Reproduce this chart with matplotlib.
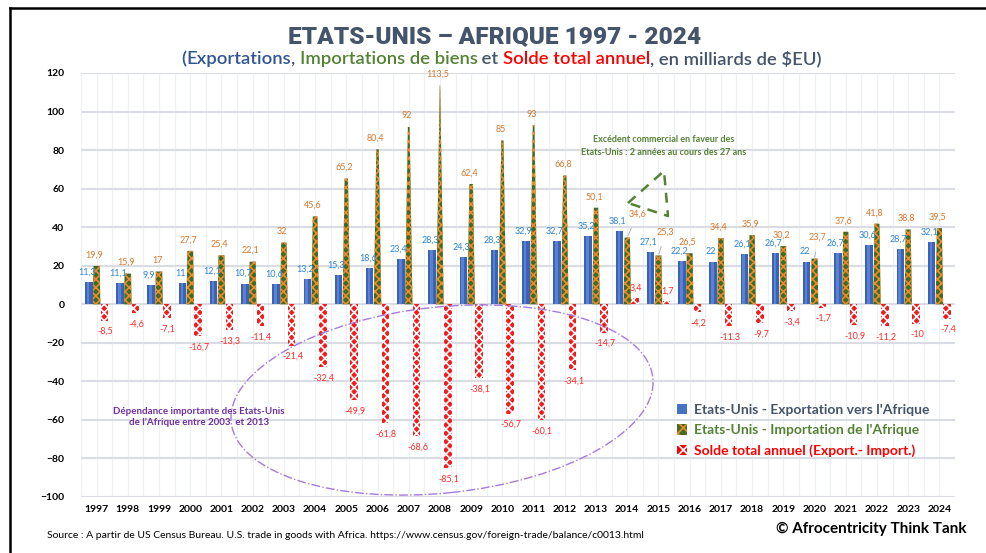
import numpy as np
import matplotlib.pyplot as plt
from matplotlib.patches import Patch, Ellipse
from matplotlib.lines import Line2D

# valeurs en milliards de $EU
years = list(range(1997, 2025))
exports = [11.3, 11.1, 9.9, 11, 12.1, 10.7, 10.6, 13.2, 15.3, 18.6, 23.4, 28.3, 24.3, 28.3,
           32.9, 32.7, 35.2, 38.1, 27.1, 22.2, 22, 26.1, 26.7, 22, 26.7, 30.6, 28.7, 32.1]
imports = [19.9, 15.9, 17, 27.7, 25.4, 22.1, 32, 45.6, 65.2, 80.4, 92, 113.5, 62.4, 85,
           93, 66.8, 50.1, 34.6, 25.3, 26.5, 34.4, 35.9, 30.2, 23.7, 37.6, 41.8, 38.8, 39.5]
balance = [-8.5, -4.6, -7.1, -16.7, -13.3, -11.4, -21.4, -32.4, -49.9, -61.8, -68.6, -85.1,
           -38.1, -56.7, -60.1, -34.1, -14.7, 3.4, 1.7, -4.2, -11.3, -9.7, -3.4, -1.7,
           -10.9, -11.2, -10, -7.4]
y_ticks = list(range(-100, 121, 20))

BLUE = '#3A63B8'
GREEN = '#3F6B22'
ORANGE = '#EE8A2C'
RED = '#F21C1C'
SLATE = '#44546A'

plt.rcParams['font.family'] = ['Lato', 'DejaVu Sans']
plt.rcParams['hatch.linewidth'] = 1.2

W, H = 987, 553
fig = plt.figure(figsize=(W / 100, H / 100), dpi=100)


def fx(p):
    return p / W


def fy(p):
    return 1 - p / H


def fmt(v):
    return f"{v:g}".replace('.', ',')


ax = fig.add_axes([fx(81), fy(497), fx(955) - fx(81), fy(73) - fy(497)])
x = np.arange(len(years))
ax.set_xlim(-0.5, len(years) - 0.5)
ax.set_ylim(-100, 120)

bw = 0.24
off = 0.25

# exportations : cylindres bleus
ax.bar(x - off, exports, bw, color=BLUE, zorder=3)
ax.bar(x - off - 0.02, exports, bw * 0.35, color='#7098E2', alpha=0.6, zorder=3)

# importations : pyramides jusqu'au max de l'axe
for xi, v in zip(x, imports):
    h0 = bw / 2
    h1 = h0 * (1 - v / 120)
    ax.fill([xi - h0, xi + h0, xi + h1, xi - h1], [0, 0, v, v],
            facecolor=GREEN, edgecolor=ORANGE, hatch='xxxx', lw=0, zorder=3)

# solde
ax.bar(x + off, balance, bw, color=RED, edgecolor='white', hatch='xxxx', lw=0, zorder=3)

# étiquettes
lab_kw = dict(textcoords='offset pixels', ha='center', va='center', fontsize=6.5, zorder=6)
for i, v in enumerate(exports):
    ax.annotate(fmt(v), (x[i] - off, v), xytext=(-2, 10), color='#2F86D4', **lab_kw)

special = {2014: (10, 23), 2015: (7, 23), 2020: (3, 21)}
for i, v in enumerate(imports):
    if years[i] in special:
        ax.annotate(fmt(v), (x[i], v), xytext=special[years[i]], color='#D9772C',
                    arrowprops=dict(arrowstyle='-', color='#A6A6A6', lw=0.6,
                                    shrinkA=5, shrinkB=1), **lab_kw)
    else:
        ax.annotate(fmt(v), (x[i], v), xytext=(-2, 11), color='#D9772C', **lab_kw)

for i, v in enumerate(balance):
    dy = 10 if v > 0 else -11
    ax.annotate(fmt(v), (x[i] + off, v), xytext=(1, dy), color='#FF2A2A', **lab_kw)

# axes
ax.set_yticks(y_ticks)
ax.set_xticks(x, [str(y) for y in years])
ax.set_xticks(np.arange(-0.5, len(years), 0.5), minor=True)
ax.tick_params(axis='both', length=0, which='both')
ax.tick_params(axis='y', pad=12, labelsize=7.5)
ax.tick_params(axis='x', pad=6, labelsize=7.5)
for t in ax.get_xticklabels() + ax.get_yticklabels():
    t.set_fontweight('bold')
ax.grid(axis='y', color='#D9DCE2', lw=1.5, zorder=0)
ax.grid(axis='x', which='both', color='#EEF0F4', lw=0.9, zorder=0)
ax.set_axisbelow(True)
for s in ax.spines.values():
    s.set_visible(False)

# légende
handles = [Patch(facecolor='#4472C4'),
           Patch(facecolor=GREEN, edgecolor=ORANGE, hatch='xxx', lw=0),
           Patch(facecolor='#FF0000', edgecolor='white', hatch='xxx', lw=0)]
labels = ["Etats-Unis - Exportation vers l'Afrique",
          "Etats-Unis - Importation de l'Afrique",
          "Solde total annuel (Export.- Import.)"]
leg = fig.legend(handles, labels, loc='upper left', bbox_to_anchor=(fx(670), fy(397)),
                 frameon=False, borderpad=0, handlelength=0.75, handleheight=0.75,
                 handletextpad=0.45, labelspacing=0.6,
                 prop=dict(family=['Lato', 'DejaVu Sans'], weight='bold', size=10))
for t, c in zip(leg.get_texts(), [SLATE, '#548235', '#FF0000']):
    t.set_color(c)

# annotations
fig.text(fx(664), fy(146), "Excédent commercial en faveur des\nEtats-Unis : 2 années au cours des 27 ans",
         ha='center', va='center', fontsize=6.5, fontweight='bold', color='#548235', linespacing=1.5)
tri_x = [628, 664, 668, 628]
tri_y = [203, 171, 216, 203]
fig.add_artist(Line2D([fx(p) for p in tri_x], [fy(p) for p in tri_y], color='#548235',
                      lw=1.8, ls=(0, (4, 3))))

fig.text(fx(199), fy(417), "Dépendance importante des Etats-Unis\nde l’Afrique entre 2003  et 2013",
         ha='center', va='center', fontsize=7, fontweight='bold', color='#7030A0', linespacing=1.3)
ell = Ellipse((4.42, (H - 400) / 100), 4.24, 1.86, angle=6, fill=False,
              edgecolor='#A57BDD', lw=1, ls='-.', transform=fig.dpi_scale_trans, zorder=5)
fig.add_artist(ell)

# titres
fig.text(fx(495), fy(37), "ETATS-UNIS – AFRIQUE 1997 - 2024", ha='center', va='center',
         fontsize=17.6, fontweight=900, family=['Roboto', 'DejaVu Sans'],
         color=SLATE)

segs = [("(", '#2F5597'), ("Exportations", '#2F5597'), (", ", SLATE),
        ("Importations de biens", '#548235'), (" et ", SLATE),
        ("Solde total annuel", '#FF0000'), (", en milliards de $EU)", SLATE)]
renderer = fig.canvas.get_renderer()
texts = []
for s, c in segs:
    texts.append(fig.text(0, fy(59), s, ha='left', va='center', fontsize=13.3,
                          fontweight='semibold', color=c))
widths = [t.get_window_extent(renderer).width for t in texts]
start = 501.5 - sum(widths) / 2
for t, w in zip(texts, widths):
    t.set_x(fx(start))
    start += w

# pied
fig.text(fx(47), fy(535), "Source : A partir de US Census Bureau. U.S. trade in goods with Africa. "
         "https://www.census.gov/foreign-trade/balance/c0013.html",
         ha='left', va='center', fontsize=7.5, color='black')
fig.text(fx(967), fy(529), "© Afrocentricity Think Tank", ha='right', va='center',
         fontsize=11, fontweight='bold', color='black')

# cadre
fig.add_artist(Line2D([fx(10), 1], [fy(8), fy(8)], color='black', lw=1.8))
fig.add_artist(Line2D([fx(10), fx(10)], [fy(8), 0], color='black', lw=1.8))

fig.savefig('out.png', dpi=100)
